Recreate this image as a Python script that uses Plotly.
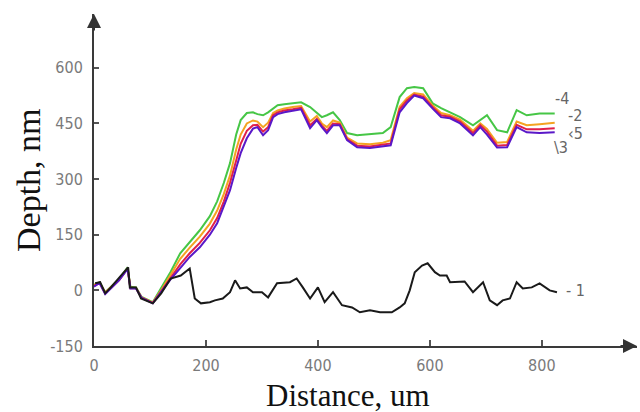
import plotly.graph_objects as go

# ---- data (um, nm) ----
x_black = [2, 11, 20, 30, 61, 64, 75, 84, 105, 120, 137, 155, 171, 180, 191, 207, 216, 230, 243,
           252, 261, 273, 284, 300, 311, 327, 350, 362, 373, 386, 400, 412, 427, 443, 461, 475,
           493, 511, 532, 546, 555, 564, 573, 586, 596, 609, 618, 630, 636, 662, 677, 695, 707,
           720, 730, 743, 755, 766, 782, 796, 814, 827]
y_black = [19, 22, -8, 8, 62, 8, 8, -22, -35, -8, 32, 40, 59, -22, -35, -32, -27, -22, -5,
           27, 5, 8, -5, -5, -19, 19, 22, 32, 8, -22, 8, -32, -5, -40, -46, -59,
           -54, -59, -59, -46, -35, 0, 49, 67, 73, 49, 40, 40, 22, 24, -5, 22, -27,
           -40, -27, -22, 22, 5, 8, 19, 0, -5]

x_col = [0, 10, 20, 30, 45, 60, 65, 75, 85, 105, 120, 137, 154, 171, 189, 207, 220, 232, 243,
         254, 262, 273, 284, 292, 302, 311, 320, 328, 340, 355, 370, 386, 398, 407, 416, 427,
         439, 452, 470, 493, 516, 530, 546, 559, 572, 588, 605, 620, 636, 654, 677, 690, 702,
         720, 738, 755, 773, 796, 823]

y_s4 = [15, 22, -5, 10, 30, 62, 10, 8, -18, -32, 5, 50, 100, 130, 162, 200, 240, 290, 343,
        420, 459, 478, 480, 475, 472, 480, 490, 499, 502, 504, 507, 494, 480, 467, 472, 480,
        459, 424, 418, 420, 424, 440, 521, 545, 548, 545, 504, 491, 480, 467, 445, 460, 472,
        432, 426, 486, 472, 477, 477]
y_s2 = [14, 21, -6, 8, 29, 60, 8, 7, -19, -33, 0, 42, 85, 115, 145, 180, 215, 260, 310,
        380, 420, 450, 458, 455, 440, 452, 478, 485, 490, 494, 497, 455, 470, 450, 440, 458,
        452, 412, 396, 394, 398, 405, 495, 518, 532, 528, 498, 478, 472, 460, 430, 450, 435,
        398, 400, 455, 445, 448, 452]
y_s5 = [12, 20, -8, 6, 28, 59, 6, 6, -20, -34, -3, 35, 70, 100, 128, 162, 195, 240, 290,
        350, 395, 430, 445, 446, 428, 440, 472, 480, 485, 488, 492, 445, 462, 444, 430, 450,
        448, 408, 390, 388, 392, 396, 488, 512, 528, 522, 494, 472, 468, 455, 424, 445, 428,
        390, 392, 446, 434, 434, 437]
y_s3 = [10, 20, -10, 5, 28, 58, 5, 5, -20, -35, -5, 30, 60, 90, 116, 150, 181, 225, 270,
        330, 370, 410, 436, 440, 418, 432, 467, 475, 480, 484, 488, 437, 459, 440, 424, 445,
        445, 405, 386, 384, 388, 391, 480, 505, 525, 518, 490, 467, 464, 450, 418, 440, 420,
        385, 386, 440, 426, 424, 426]

x_ticks = [0, 200, 400, 600, 800]
y_ticks = [-150, 0, 150, 300, 450, 600]

series = [
    ("4", y_s4, "#46c646"),
    ("2", y_s2, "#f4a321"),
    ("5", y_s5, "#e0204a"),
    ("3", y_s3, "#5a18c8"),
]

fig = go.Figure()
for name, ys, col in series:
    fig.add_trace(go.Scatter(x=x_col, y=ys, mode="lines", name=name,
                             line=dict(color=col, width=2), showlegend=False))
fig.add_trace(go.Scatter(x=x_black, y=y_black, mode="lines", name="1",
                         line=dict(color="#1a1a1a", width=2), showlegend=False))

tickfont = dict(family="DejaVu Sans Condensed, Liberation Sans Narrow, sans-serif",
                size=16, color="#7a7a7a")
fig.update_layout(
    width=640, height=412,
    margin=dict(l=94, r=3, t=14, b=66),
    paper_bgcolor="white", plot_bgcolor="white",
    xaxis=dict(range=[0, 970], tickvals=x_ticks, ticktext=[str(v) for v in x_ticks],
               showgrid=False, zeroline=False, showline=True, linecolor="#3a3a3a",
               linewidth=2, ticks="inside", ticklen=6, tickcolor="#555", tickwidth=1.5,
               tickfont=tickfont, ticklabelstandoff=4),
    yaxis=dict(range=[-150, 745], tickvals=y_ticks, ticktext=[str(v) for v in y_ticks],
               showgrid=False, zeroline=False, showline=True, linecolor="#3a3a3a",
               linewidth=2, ticks="inside", ticklen=5, tickcolor="#555", tickwidth=1.5,
               tickfont=tickfont, ticklabelstandoff=6),
)

serif = "Liberation Serif, Times New Roman, serif"
ann = [
    # axis arrows
    dict(x=0, y=745, xref="x", yref="y", ax=0, ay=18, showarrow=True, arrowhead=2,
         arrowsize=1.4, arrowwidth=2, arrowcolor="#333", text=""),
    dict(x=970, y=-150, xref="x", yref="y", ax=-18, ay=0, showarrow=True, arrowhead=2,
         arrowsize=1.4, arrowwidth=2, arrowcolor="#333", text=""),
    # axis titles (pixel-placed, converted below)
    dict(x=348, y=395, text="Distance, um", showarrow=False,
         font=dict(family=serif, size=31, color="#111")),
    dict(x=28, y=180, text="Depth, nm", textangle=-90,
         showarrow=False, font=dict(family=serif, size=34, color="#111")),
]
for a in ann[2:]:
    a["xref"] = "paper"
    a["yref"] = "paper"
    a["x"] = (a["x"] - 94) / (640 - 94 - 3)
    a["y"] = (412 - 66 - a["y"]) / (412 - 66 - 14)
    a["xanchor"] = "center"
    a["yanchor"] = "middle"

labfont = dict(family="DejaVu Sans Condensed, sans-serif", size=16, color="#666")
ann += [
    dict(x=860, y=0, xref="x", yref="y", text="- 1", showarrow=False, font=labfont),
    dict(x=836, y=516, xref="x", yref="y", text="-4", showarrow=False, font=labfont),
    dict(x=860, y=472, xref="x", yref="y", text="-2", showarrow=False, font=labfont),
    dict(x=860, y=424, xref="x", yref="y", text="‹5", showarrow=False, font=labfont),
    dict(x=834, y=386, xref="x", yref="y", text="\\3", showarrow=False, font=labfont),
]
fig.update_layout(annotations=ann)

fig.write_html("out.html")
